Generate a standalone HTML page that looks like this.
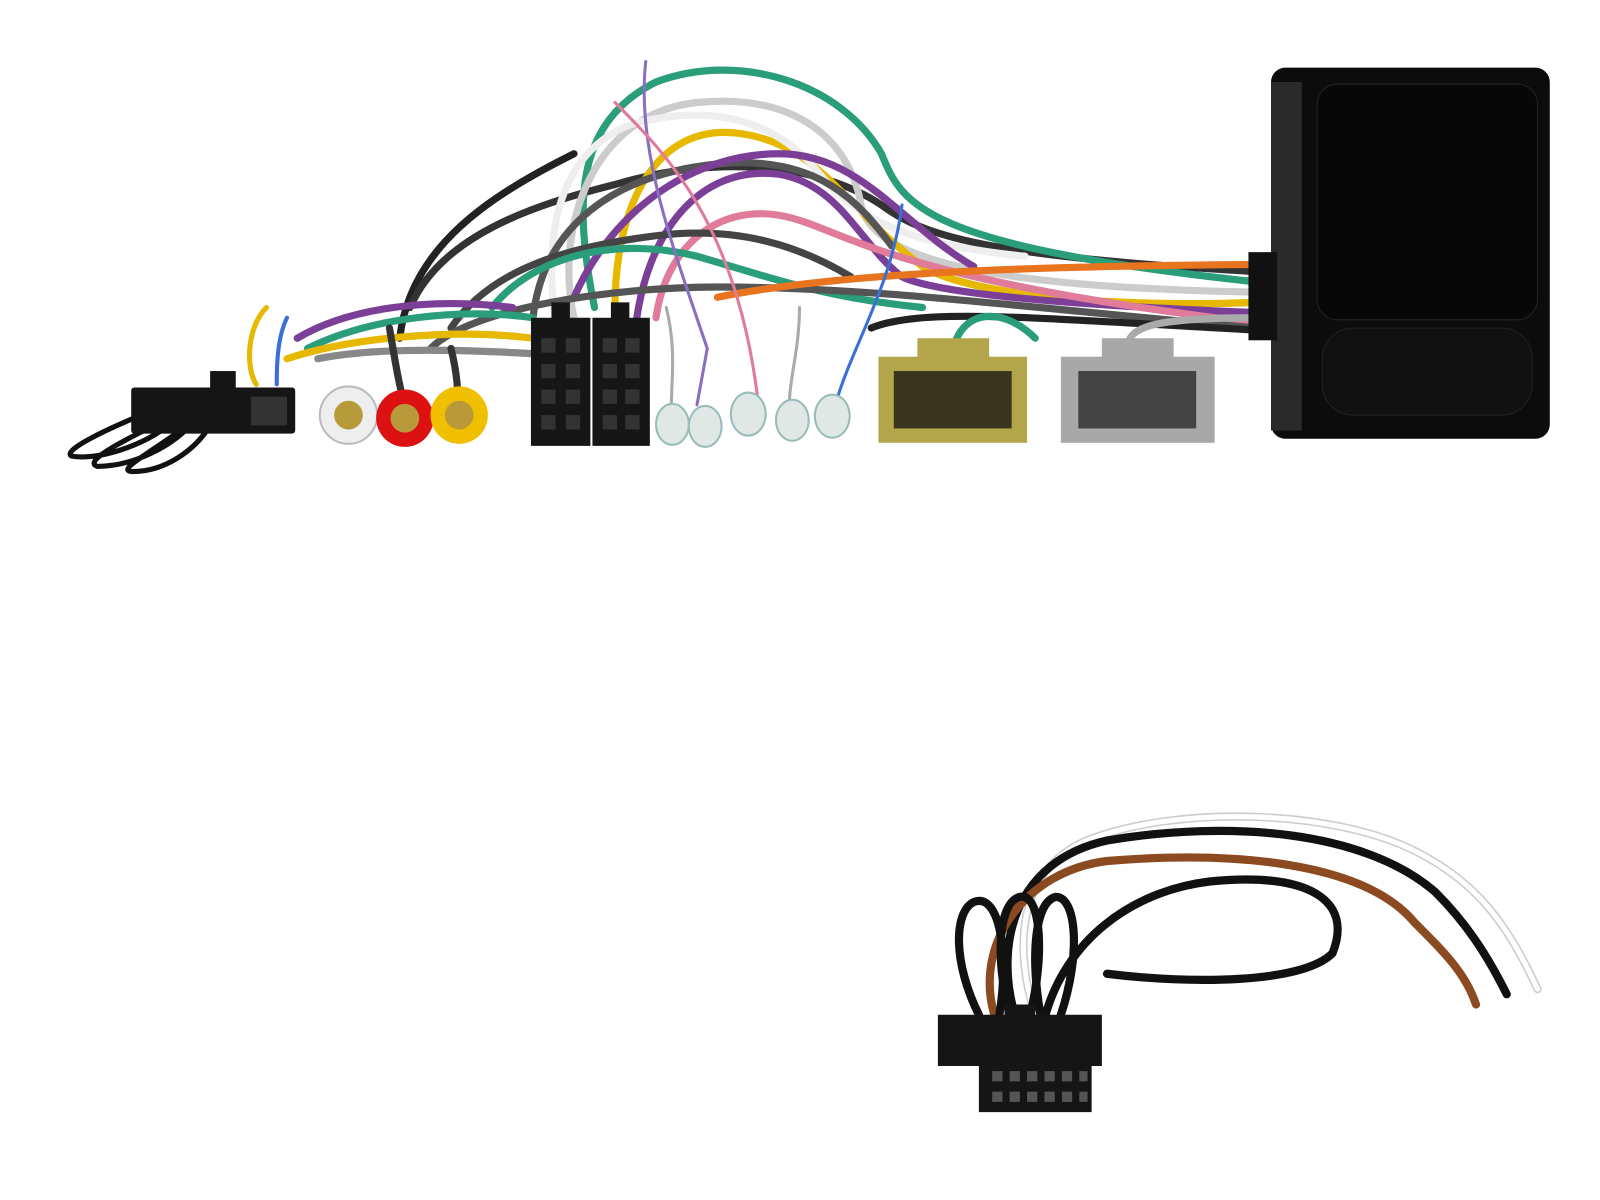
<!DOCTYPE html>
<html><head><meta charset="utf-8"><style>
html,body{margin:0;padding:0;background:#fff;width:1600px;height:1200px;overflow:hidden}
</style></head><body>
<svg width="1600" height="1200" viewBox="0 0 1600 1200" xmlns="http://www.w3.org/2000/svg">
<g transform="scale(1.025)">
<g fill="none" stroke-linecap="round">
<g stroke-width="7">
<path d="M390 330 C400 240 480 190 560 150" stroke="#222"/>
<path d="M400 300 C430 230 520 200 600 180 C700 150 800 160 860 200 C900 230 960 250 1225 265" stroke="#333"/>
<path d="M580 300 C560 200 560 120 640 80 C720 50 820 80 860 150 C880 200 900 240 1225 275" stroke="#2a9d7a"/>
<path d="M560 310 C540 220 580 110 680 100 C780 90 830 140 840 200 C850 250 950 280 1225 285" stroke="#ccc"/>
<path d="M600 300 C600 200 640 120 720 130 C800 140 820 200 900 260 C950 290 1100 300 1225 295" stroke="#e6b800"/>
<path d="M620 320 C630 230 680 160 760 170 C820 180 840 240 880 270 C920 290 1100 300 1225 305" stroke="#7b3f98"/>
<path d="M640 310 C650 240 700 200 760 210 C820 220 850 270 1225 315" stroke="#e07b9a"/>
<path d="M540 300 C530 200 560 140 620 120 C700 100 760 120 800 170 C840 220 900 240 1000 250" stroke="#eee"/>
<path d="M520 310 C530 220 600 170 700 160 C800 150 840 200 870 240" stroke="#555"/>
<path d="M560 290 C600 200 680 150 760 150 C840 150 880 220 950 260" stroke="#7b3f98"/>
<path d="M440 320 C480 260 560 240 640 230 C720 220 780 240 830 270" stroke="#444"/>
<path d="M480 300 C520 250 600 230 680 250 C750 270 800 290 900 300" stroke="#2a9d7a"/>
<path d="M420 340 C460 300 600 280 700 280 C850 280 1000 300 1225 320" stroke="#555"/>
<path d="M300 340 C360 310 450 300 520 310" stroke="#2a9d7a"/>
<path d="M290 330 C340 300 420 290 500 300" stroke="#7b3f98"/>
<path d="M280 350 C340 330 440 320 520 330" stroke="#e6b800"/>
<path d="M310 350 C360 340 430 340 520 345" stroke="#888"/>
<path d="M700 290 C800 270 950 260 1225 258" stroke="#e8741f"/>
<path d="M850 320 C900 300 1000 310 1225 322" stroke="#222"/>
<path d="M630 60 C620 150 660 250 690 340 L680 395" stroke="#8a6fc0" stroke-width="3"/>
<path d="M600 100 C650 150 720 220 740 395" stroke="#e07b9a" stroke-width="3"/>
<path d="M880 200 C870 280 830 340 815 395" stroke="#3a6fd8" stroke-width="3"/>
<path d="M780 300 C780 340 770 370 770 395" stroke="#aaa" stroke-width="3"/>
<path d="M650 300 C660 340 655 370 655 395" stroke="#aaa" stroke-width="3"/>
<path d="M930 340 C940 300 980 300 1010 330" stroke="#2a9d7a"/>
<path d="M1100 340 C1100 320 1120 310 1225 310" stroke="#aaa"/>
<path d="M260 300 C240 320 240 360 250 375" stroke="#e6b800" stroke-width="5"/>
<path d="M280 310 C270 330 270 360 270 375" stroke="#3a6fd8" stroke-width="4"/>
<path d="M380 320 C385 350 390 380 395 395" stroke="#333"/>
<path d="M440 340 C445 360 447 380 447 395" stroke="#333"/>
</g>
<g stroke="#111" stroke-width="5">
<path d="M150 400 C100 420 60 440 70 445 C100 450 150 430 170 410"/>
<path d="M170 405 C120 430 80 450 95 455 C130 455 170 435 190 410"/>
<path d="M190 410 C150 440 110 460 130 460 C160 460 190 440 205 415"/>
</g>
<g stroke-width="8">
<path d="M1010 990 C990 930 990 850 1060 820 C1150 785 1300 790 1380 830 C1440 860 1470 900 1500 965" stroke="#ccc"/>
<path d="M1010 990 C990 930 990 850 1060 820 C1150 785 1300 790 1380 830 C1440 860 1470 900 1500 965" stroke="#fff" stroke-width="5"/>
<path d="M990 990 C970 920 990 840 1080 820 C1200 800 1330 810 1400 870 C1430 900 1450 930 1470 970" stroke="#111"/>
<path d="M970 990 C950 920 1000 850 1080 840 C1200 830 1330 840 1380 900 C1410 930 1430 950 1440 980" stroke="#8b4a1f"/>
<path d="M1020 990 C1040 920 1100 870 1180 860 C1280 850 1320 880 1300 930 C1270 960 1160 960 1080 950" stroke="#111"/>
<path d="M955 990 C930 940 930 890 950 880 C975 870 985 930 975 990" stroke="#111"/>
<path d="M985 990 C970 930 975 880 995 875 C1015 870 1020 930 1005 990" stroke="#111"/>
<path d="M1015 990 C1005 930 1010 880 1030 875 C1050 875 1055 930 1035 990" stroke="#111"/>
</g>
</g>
<rect x="1240" y="66" width="272" height="362" rx="14" fill="#0c0c0c"/>
<rect x="1240" y="80" width="30" height="340" fill="#2a2a2a"/>
<rect x="1285" y="82" width="215" height="230" rx="20" fill="#070707" stroke="#222"/>
<rect x="1290" y="320" width="205" height="85" rx="30" fill="#111" stroke="#222"/>
<rect x="1218" y="246" width="28" height="86" fill="#111"/>
<rect x="128" y="378" width="160" height="45" rx="3" fill="#151515"/>
<rect x="205" y="362" width="25" height="20" fill="#151515"/>
<rect x="245" y="387" width="35" height="28" fill="#333"/>
<circle cx="340" cy="405" r="28" fill="#eee" stroke="#bbb" stroke-width="2"/>
<circle cx="340" cy="405" r="14" fill="#b89a3a"/>
<circle cx="395" cy="408" r="28" fill="#d11"/>
<circle cx="395" cy="408" r="14" fill="#b89a3a"/>
<circle cx="448" cy="405" r="28" fill="#f0c000"/>
<circle cx="448" cy="405" r="14" fill="#b89a3a"/>
<rect x="518" y="310" width="58" height="125" fill="#161616"/>
<rect x="578" y="310" width="56" height="125" fill="#161616"/>
<rect x="538" y="295" width="18" height="18" fill="#161616"/>
<rect x="596" y="295" width="18" height="18" fill="#161616"/>
<g fill="#333">
<rect x="528" y="330" width="14" height="14"/><rect x="552" y="330" width="14" height="14"/>
<rect x="528" y="355" width="14" height="14"/><rect x="552" y="355" width="14" height="14"/>
<rect x="528" y="380" width="14" height="14"/><rect x="552" y="380" width="14" height="14"/>
<rect x="528" y="405" width="14" height="14"/><rect x="552" y="405" width="14" height="14"/>
<rect x="588" y="330" width="14" height="14"/><rect x="610" y="330" width="14" height="14"/>
<rect x="588" y="355" width="14" height="14"/><rect x="610" y="355" width="14" height="14"/>
<rect x="588" y="380" width="14" height="14"/><rect x="610" y="380" width="14" height="14"/>
<rect x="588" y="405" width="14" height="14"/><rect x="610" y="405" width="14" height="14"/>
</g>
<g fill="#dfe8e4" stroke="#9bb" stroke-width="2">
<ellipse cx="656" cy="414" rx="16" ry="20"/><ellipse cx="688" cy="416" rx="16" ry="20"/>
<ellipse cx="730" cy="404" rx="17" ry="21"/><ellipse cx="773" cy="410" rx="16" ry="20"/>
<ellipse cx="812" cy="406" rx="17" ry="21"/>
</g>
<rect x="857" y="348" width="145" height="84" fill="#b3a64a"/>
<rect x="895" y="330" width="70" height="22" fill="#b3a64a"/>
<rect x="872" y="362" width="115" height="56" fill="#3a3520"/>
<rect x="1035" y="348" width="150" height="84" fill="#a8a8a8"/>
<rect x="1075" y="330" width="70" height="22" fill="#a8a8a8"/>
<rect x="1052" y="362" width="115" height="56" fill="#444"/>
<rect x="915" y="990" width="160" height="50" fill="#151515"/>
<rect x="955" y="1040" width="110" height="45" fill="#151515"/>
<rect x="980" y="980" width="30" height="20" fill="#151515"/>
<g fill="#555">
<rect x="968" y="1045" width="10" height="10"/><rect x="985" y="1045" width="10" height="10"/><rect x="1002" y="1045" width="10" height="10"/><rect x="1019" y="1045" width="10" height="10"/><rect x="1036" y="1045" width="10" height="10"/><rect x="1053" y="1045" width="8" height="10"/>
<rect x="968" y="1065" width="10" height="10"/><rect x="985" y="1065" width="10" height="10"/><rect x="1002" y="1065" width="10" height="10"/><rect x="1019" y="1065" width="10" height="10"/><rect x="1036" y="1065" width="10" height="10"/><rect x="1053" y="1065" width="8" height="10"/>
</g>
</g>
</svg>
</body></html>
